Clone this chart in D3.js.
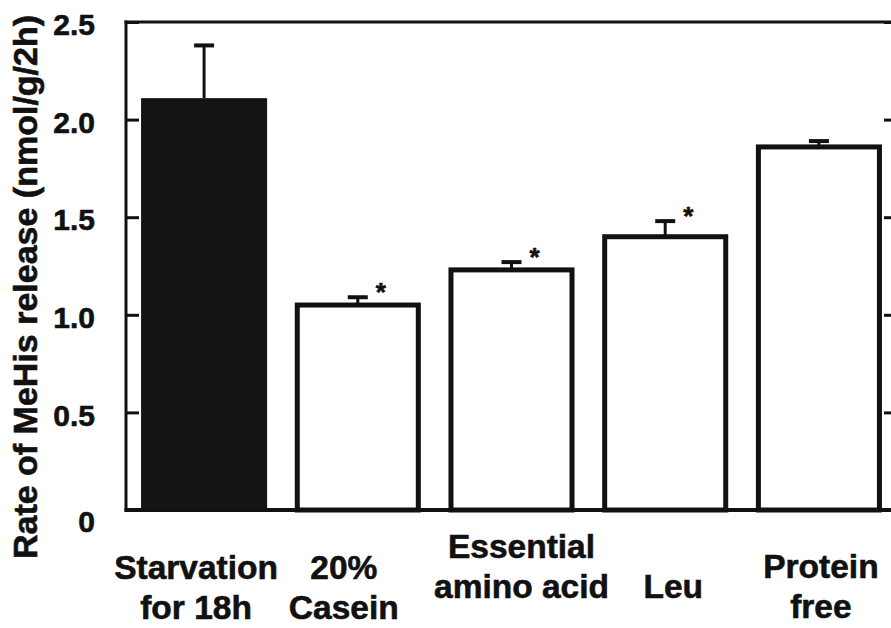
<!DOCTYPE html>
<html>
<head>
<meta charset="utf-8">
<script src="https://cdn.jsdelivr.net/npm/d3@7"></script>
<style>
  html, body { margin: 0; padding: 0; background: #ffffff; }
  svg { display: block; }
  text { font-family: "Liberation Sans", Arial, Helvetica, sans-serif; font-weight: bold; fill: #111; stroke: #111; stroke-width: 0.6px; }
</style>
</head>
<body>
<svg id="chart" width="891" height="628"></svg>
<script>
// Diet groups and measured 3-methylhistidine release (mean and SE)
const categories = ["Starvation for 18h", "20% Casein", "Essential amino acid", "Leu", "Protein free"];
const labelLines = [["Starvation", "for 18h"], ["20%", "Casein"], ["Essential", "amino acid"], ["Leu"], ["Protein", "free"]];
const values = [2.11, 1.05, 1.23, 1.40, 1.86];
const errors = [0.27, 0.04, 0.04, 0.08, 0.03];
const significant = [false, true, true, true, false];
const tickValues = [0, 0.5, 1.0, 1.5, 2.0, 2.5];
const tickLabels = ["0", "0.5", "1.0", "1.5", "2.0", "2.5"];
const yTitle = "Rate of MeHis release (nmol/g/2h)";

const svg = d3.select("#chart");
const plotLeft = 126, plotRight = 897, plotTop = 22, plotBottom = 510;
const ink = "#111";

const x = d3.scaleBand()
  .domain(categories)
  .range([plotLeft, plotRight])
  .paddingInner(0.18)
  .paddingOuter(0.098);

const y = d3.scaleLinear().domain([0, 2.5]).range([plotBottom, plotTop]);

const data = categories.map((c, i) => ({
  cat: c, lines: labelLines[i], v: values[i], e: errors[i], sig: significant[i], i
}));

// bars: the control group is solid, diet groups are open boxes
const barStroke = 5;
svg.append("g").selectAll("rect")
  .data(data)
  .join("rect")
  .attr("x", d => d.i === 0 ? x(d.cat) : x(d.cat) + barStroke / 2)
  .attr("width", d => d.i === 0 ? x.bandwidth() : x.bandwidth() - barStroke)
  .attr("y", d => y(d.v))
  .attr("height", d => y(0) - y(d.v))
  .attr("fill", d => d.i === 0 ? "#141414" : "#ffffff")
  .attr("stroke", d => d.i === 0 ? "none" : ink)
  .attr("stroke-width", barStroke);

// upper error bars
const eb = svg.append("g");
eb.selectAll("line.stem")
  .data(data)
  .join("line")
  .attr("class", "stem")
  .attr("x1", d => x(d.cat) + x.bandwidth() / 2)
  .attr("x2", d => x(d.cat) + x.bandwidth() / 2)
  .attr("y1", d => y(d.v))
  .attr("y2", d => y(d.v + d.e))
  .attr("stroke", ink)
  .attr("stroke-width", 3);
eb.selectAll("line.cap")
  .data(data)
  .join("line")
  .attr("class", "cap")
  .attr("x1", d => x(d.cat) + x.bandwidth() / 2 - 10)
  .attr("x2", d => x(d.cat) + x.bandwidth() / 2 + 10)
  .attr("y1", d => y(d.v + d.e))
  .attr("y2", d => y(d.v + d.e))
  .attr("stroke", ink)
  .attr("stroke-width", 4);

// significance marks
svg.append("g").selectAll("text")
  .data(data.filter(d => d.sig))
  .join("text")
  .attr("x", d => x(d.cat) + x.bandwidth() / 2 + 23)
  .attr("y", d => y(d.v + d.e) + 4)
  .attr("text-anchor", "middle")
  .style("font-size", "26px")
  .text("*");

// frame: left and right value axes with inward ticks, plus top and bottom rules
const yLeft = d3.axisLeft(y).tickValues(tickValues)
  .tickFormat((d, i) => tickLabels[i]).tickSize(-13).tickPadding(31);
const gL = svg.append("g").attr("transform", `translate(${plotLeft},0)`).call(yLeft);
gL.select(".domain").remove();
gL.selectAll(".tick line").attr("stroke", ink).attr("stroke-width", 3);
gL.selectAll(".tick text")
  .style("font-size", "30px")
  .attr("fill", ink)
  .attr("dy", (d) => d === 0 ? "0.7em" : "0.42em");

const yRight = d3.axisRight(y).tickValues(tickValues).tickSize(-13).tickFormat("");
const gR = svg.append("g").attr("transform", `translate(${plotRight},0)`).call(yRight);
gR.select(".domain").remove();
gR.selectAll(".tick line").attr("stroke", ink).attr("stroke-width", 3);

const frame = svg.append("g").attr("stroke", ink).attr("fill", "none");
frame.append("line").attr("x1", plotLeft).attr("x2", plotLeft).attr("y1", plotTop - 1.5).attr("y2", plotBottom + 1.5).attr("stroke-width", 3);
frame.append("line").attr("x1", plotRight).attr("x2", plotRight).attr("y1", plotTop - 1.5).attr("y2", plotBottom + 1.5).attr("stroke-width", 3);
frame.append("line").attr("x1", plotLeft - 1.5).attr("x2", plotRight + 1.5).attr("y1", plotTop).attr("y2", plotTop).attr("stroke-width", 3);
frame.append("line").attr("x1", plotLeft - 1.5).attr("x2", plotRight + 1.5).attr("y1", plotBottom).attr("y2", plotBottom).attr("stroke-width", 4);

// category labels under the bars (baseline of first line, and a small sideways nudge)
const firstBaseline = [579, 579, 558, 598, 578];
const labelNudge = [-8, -14, 10, 8, 2];
const lineGap = 40;
const xl = svg.append("g");
data.forEach(d => {
  const cx = x(d.cat) + x.bandwidth() / 2 + labelNudge[d.i];
  const t = xl.append("text")
    .attr("text-anchor", "middle")
    .style("font-size", "33.5px")
    .attr("x", cx)
    .attr("y", firstBaseline[d.i]);
  d.lines.forEach((ln, k) => {
    t.append("tspan")
      .attr("x", cx)
      .attr("y", firstBaseline[d.i] + k * lineGap)
      .text(ln);
  });
});

// value axis title
svg.append("text")
  .attr("transform", "translate(37,287) rotate(-90)")
  .attr("text-anchor", "middle")
  .style("font-size", "34px")
  .text(yTitle);
</script>
</body>
</html>
